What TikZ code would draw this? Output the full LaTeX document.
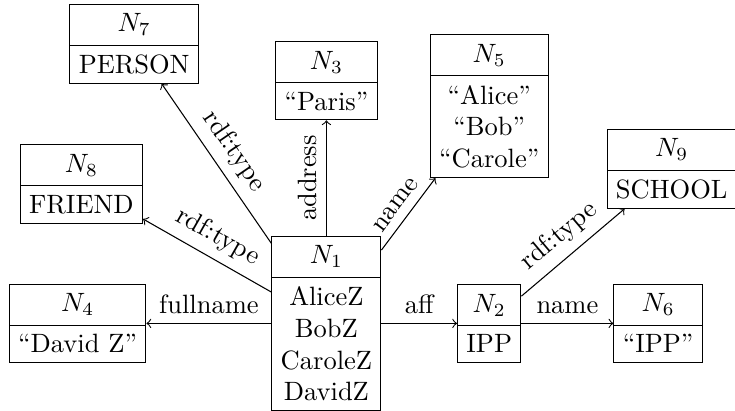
\documentclass[tikz,border=0pt]{standalone}
\usetikzlibrary{shapes.multipart}
\tikzset{
	rnode/.style={draw, rectangle split, rectangle split parts=2, align=center},
	link/.style={->}
}
\begin{document}
\begin{tikzpicture}
			%%%%% START %%%%%
			\useasboundingbox (-4.33, -1.16) rectangle (5.42, 4.29);
			
			\node[rnode] (n1) at (0, 0) {$N_1$ \nodepart{two} AliceZ\\BobZ\\CaroleZ\\DavidZ};
			\node[rnode] (n2) at (2.16, 0) {$N_2$ \nodepart{two} IPP};
			\node[rnode] (n6) at (4.40, 0) {$N_6$ \nodepart{two} ``IPP''};
			\node[rnode] (n4) at (-3.30, 0) {$N_4$ \nodepart{two} ``David Z''};
			
			\node[rnode] (n8) at (-3.25, 1.85) {$N_8$ \nodepart{two} FRIEND};
			\node[rnode] (n7) at (-2.55, 3.71) {$N_7$ \nodepart{two} PERSON};
			\node[rnode] (n3) at (0, 3.22) {$N_3$ \nodepart{two} ``Paris''};
			\node[rnode] (n5) at (2.16, 2.88) {$N_5$ \nodepart{two} ``Alice''\\``Bob''\\``Carole''};
			\node[rnode] (n9) at (4.58, 2.05) {$N_9$ \nodepart{two} SCHOOL};
			
			\draw[link] (n1) -- node[above] {aff} (n2);
			\draw[link] (n2) -- node[above] {name} (n6);
			\draw[link] (n1) -- node[above] {fullname} (n4);
			\draw[link] (n1) -- node[above, sloped] {address} (n3);
			\draw[link] (n1) -- node[above, sloped] {name} (n5);
			\draw[link] (n1) -- node[above, sloped] {rdf:type} (n7);
			\draw[link] (n1) -- node[above, sloped] {rdf:type} (n8);
			\draw[link] (n2) -- node[above, sloped] {rdf:type} (n9);
			
			%%%%% END %%%%%
\end{tikzpicture}
\end{document}
